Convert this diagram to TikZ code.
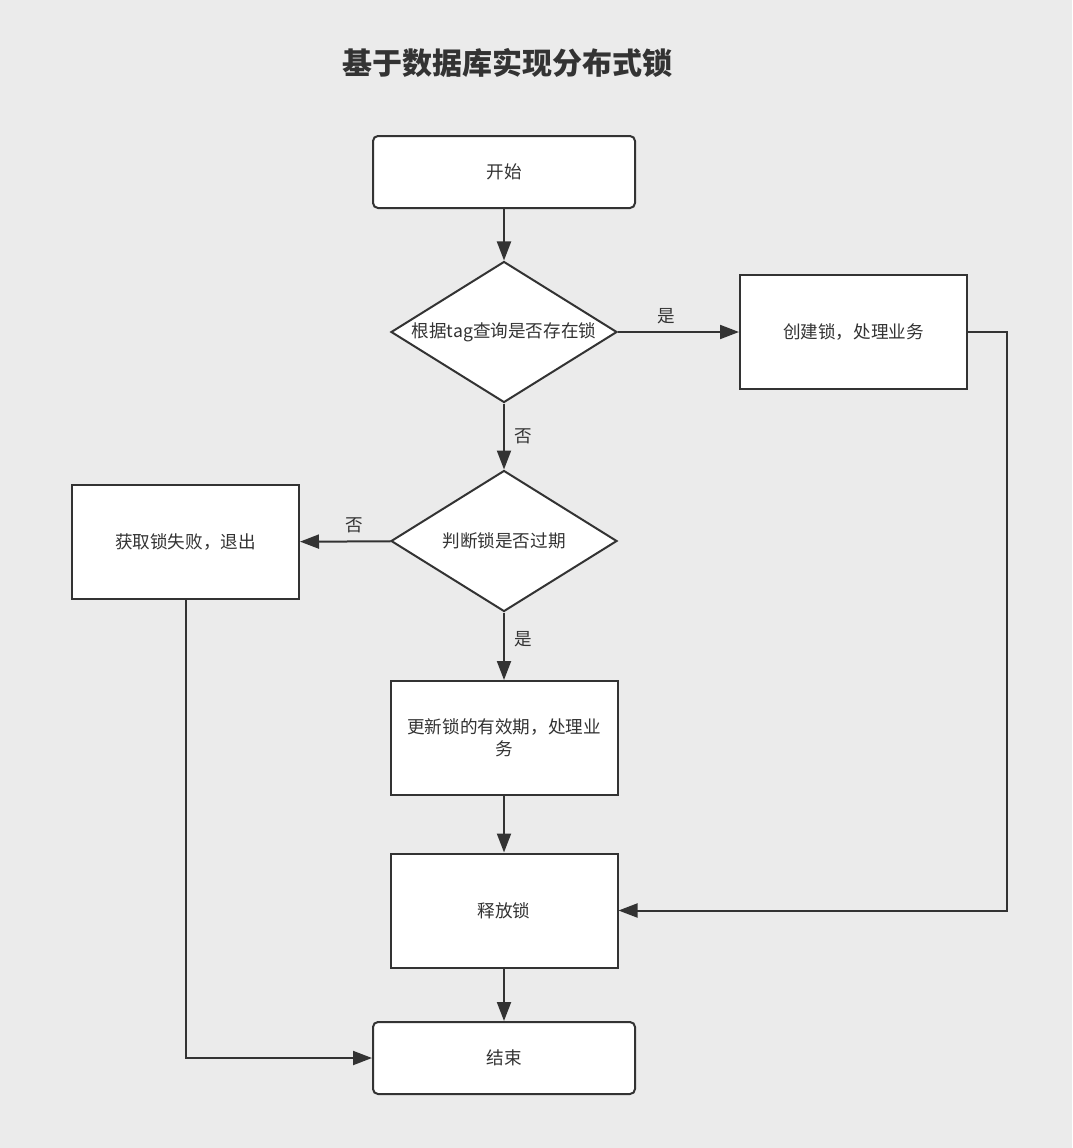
\documentclass[tikz,border=0pt]{standalone}
\usepackage{fontspec}
\setmainfont{Noto Sans CJK SC}
\usetikzlibrary{arrows.meta}
\usetikzlibrary{shapes}

\definecolor{bgGray}{HTML}{EBEBEB}
\definecolor{lineGray}{HTML}{333333}

\begin{document}
\begin{tikzpicture}[x = 1pt, y = -1pt, font = \fontsize{17.6}{22}\selectfont, text = lineGray]
	\tikzstyle{EdgeStyle} = [draw = lineGray, line width = 2pt, -{Triangle[length = 19pt, width = 14pt]}]
	\tikzstyle{roundStyle} = [shape = rectangle, rounded corners = 5pt, draw = lineGray, line width = 2pt, fill = white, minimum width = 262pt, minimum height = 72pt]
	\tikzstyle{boxStyle} = [shape = rectangle, draw = lineGray, line width = 2pt, fill = white, minimum width = 227pt, minimum height = 114pt, align = center]
	\tikzstyle{decisionStyle} = [shape = diamond, draw = lineGray, line width = 2pt, fill = white, minimum width = 226pt, minimum height = 141pt, inner sep = 0pt]
	\tikzstyle{edgeLabel} = [font = \fontsize{17.6}{20}\selectfont]
	\fill[bgGray] (0, 0) rectangle (1072, 1148);
	\node[font = \fontsize{30}{34}\selectfont\bfseries] (title) at (507, 63) {基于数据库实现分布式锁};
	\node[roundStyle] (start) at (504, 172) {开始};
	\node[decisionStyle, label = {center:根据tag查询是否存在锁}] (hasLock) at (504, 332) {};
	\node[boxStyle] (create) at (853.5, 332) {创建锁，处理业务};
	\node[decisionStyle, label = {center:判断锁是否过期}] (expired) at (504, 541) {};
	\node[boxStyle] (fail) at (185.5, 542) {获取锁失败，退出};
	\node[boxStyle] (renew) at (504, 738) {更新锁的有效期，处理业\\务};
	\node[boxStyle] (release) at (504, 910.5) {释放锁};
	\node[roundStyle] (finish) at (504, 1058) {结束};
	\coordinate (createTurn) at (1007, 332);
	\coordinate (failTurn) at (185.5, 1058);
	\draw[EdgeStyle] (start) -- (hasLock);
	\draw[EdgeStyle] (hasLock) -- (create) node[edgeLabel, pos = 0.4, above = 4pt] {是};
	\draw[EdgeStyle] (hasLock) -- (expired) node[edgeLabel, pos = 0.5, right = 6pt] {否};
	\draw[EdgeStyle] (expired) -- (fail) node[edgeLabel, pos = 0.4, above = 4pt] {否};
	\draw[EdgeStyle] (expired) -- (renew) node[edgeLabel, pos = 0.4, right = 6pt] {是};
	\draw[EdgeStyle] (renew) -- (release);
	\draw[EdgeStyle] (release) -- (finish);
	\draw[EdgeStyle] (create) -- (createTurn) |- (release);
	\draw[EdgeStyle] (fail) -- (failTurn) -- (finish);
\end{tikzpicture}
\end{document}
